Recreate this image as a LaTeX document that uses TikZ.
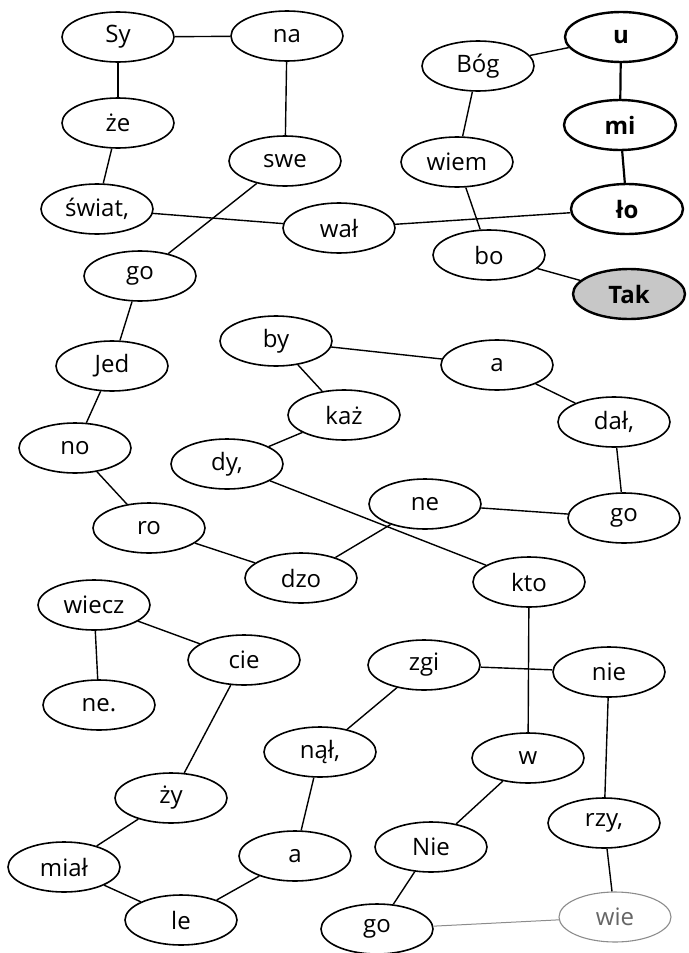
\documentclass[tikz,border=0pt]{standalone}
\usepackage{fontspec}
\setmainfont{Open Sans}
\usetikzlibrary{shapes.geometric}
\tikzset{
  syl/.style={draw=black, line width=1.6pt, ellipse, minimum width=112pt, minimum height=50pt, inner sep=0pt, font=\fontsize{24}{24}\selectfont, fill=white},
  strong/.style={syl, line width=2.4pt, font=\fontsize{24}{24}\selectfont\bfseries},
  goal/.style={strong, fill=black!22},
  faint/.style={syl, draw=black!45, line width=1.1pt, text=black!60},
  link/.style={line width=1.4pt, black},
  boldlink/.style={line width=2.2pt, black},
  faintlink/.style={line width=1pt, black!45},
}
\begin{document}
\begin{tikzpicture}[x=1pt,y=-1pt]
\useasboundingbox (0,0) rectangle (688,953);
\node[syl] (Sy) at (118,37) {Sy};
\node[syl] (na) at (287,36) {na};
\node[strong] (u) at (621,37) {u};
\node[syl] (Bog) at (478,66) {Bóg};
\node[syl] (ze) at (118,123) {że};
\node[strong] (mi) at (620,125) {mi};
\node[syl] (swe) at (285,161) {swe};
\node[syl] (wiem) at (457,162) {wiem};
\node[syl] (swiat) at (97,209) {świat,};
\node[strong] (lo) at (627,209) {ło};
\node[syl] (wal) at (339,228) {wał};
\node[syl] (bo) at (489,255) {bo};
\node[syl] (goA) at (140,276) {go};
\node[goal] (Tak) at (629,294) {Tak};
\node[syl] (by) at (276,341) {by};
\node[syl] (Jed) at (112,366) {Jed};
\node[syl] (aA) at (497,365) {a};
\node[syl] (kaz) at (344,415) {każ};
\node[syl] (dal) at (614,422) {dał,};
\node[syl] (no) at (75,448) {no};
\node[syl] (dy) at (227,464) {dy,};
\node[syl] (ne) at (425,504) {ne};
\node[syl] (goB) at (624,518) {go};
\node[syl] (ro) at (149,528) {ro};
\node[syl] (dzo) at (301,578) {dzo};
\node[syl] (kto) at (529,582) {kto};
\node[syl] (wiecz) at (94,605) {wiecz};
\node[syl] (cie) at (244,660) {cie};
\node[syl] (zgi) at (424,665) {zgi};
\node[syl] (nie) at (609,672) {nie};
\node[syl] (nedot) at (99,705) {ne.};
\node[syl] (nal) at (320,752) {nął,};
\node[syl] (w) at (528,758) {w};
\node[syl] (zy) at (171,798) {ży};
\node[syl] (rzy) at (604,823) {rzy,};
\node[syl] (Nie) at (431,847) {Nie};
\node[syl] (aB) at (295,856) {a};
\node[syl] (mial) at (64,867) {miał};
\node[syl] (le) at (181,920) {le};
\node[syl] (goC) at (377,929) {go};
\node[faint] (wie) at (615,917) {wie};
% connectors
\draw[link] (Sy) -- (na);
\draw[link] (Sy) -- (ze);
\draw[link] (na) -- (swe);
\draw[link] (ze) -- (swiat);
\draw[link] (swiat) -- (wal);
\draw[link] (swe) -- (goA);
\draw[link] (wal) -- (lo);
\draw[link] (Bog) -- (u);
\draw[boldlink] (u) -- (mi);
\draw[boldlink] (mi) -- (lo);
\draw[link] (Bog) -- (wiem);
\draw[link] (wiem) -- (bo);
\draw[link] (bo) -- (Tak);
\draw[link] (goA) -- (Jed);
\draw[link] (by) -- (aA);
\draw[link] (by) -- (kaz);
\draw[link] (kaz) -- (dy);
\draw[link] (aA) -- (dal);
\draw[link] (dal) -- (goB);
\draw[link] (Jed) -- (no);
\draw[link] (no) -- (ro);
\draw[link] (ro) -- (dzo);
\draw[link] (dzo) -- (ne);
\draw[link] (ne) -- (goB);
\draw[link] (dy) -- (kto);
\draw[link] (wiecz) -- (nedot);
\draw[link] (wiecz) -- (cie);
\draw[link] (cie) -- (zy);
\draw[link] (zy) -- (mial);
\draw[link] (mial) -- (le);
\draw[link] (le) -- (aB);
\draw[link] (aB) -- (nal);
\draw[link] (nal) -- (zgi);
\draw[link] (zgi) -- (nie);
\draw[link] (kto) -- (w);
\draw[link] (w) -- (Nie);
\draw[link] (Nie) -- (goC);
\draw[faintlink] (goC) -- (wie);
\draw[link] (nie) -- (rzy);
\draw[link] (rzy) -- (wie);
\end{tikzpicture}
\end{document}
